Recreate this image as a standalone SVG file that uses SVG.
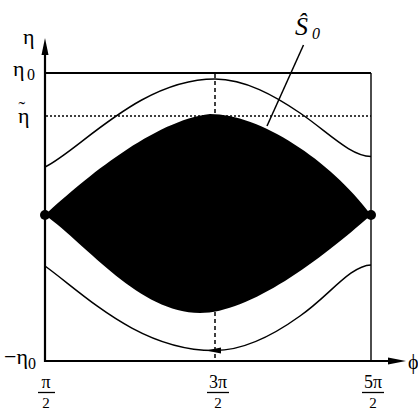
<svg xmlns="http://www.w3.org/2000/svg" width="418" height="411" viewBox="0 0 418 411">
<style>
text{font-family:"Liberation Serif","DejaVu Serif",serif;fill:#000}
.ax{stroke:#000;stroke-width:2.2;fill:none}
.thin{stroke:#000;stroke-width:1.4;fill:none}
.cur{stroke:#000;stroke-width:1.5;fill:none}
.dot{stroke:#000;stroke-width:1.5;stroke-dasharray:2 2;fill:none}
.dash{stroke:#000;stroke-width:1.5;stroke-dasharray:4 3;fill:none}
.bar{stroke:#000;stroke-width:1.3}
</style>
<g id="guides">
<line class="dash" x1="215" y1="74" x2="215" y2="360"/>
<line class="dot" x1="46" y1="116" x2="371" y2="116"/>
</g>
<g id="frame">
<line class="ax" x1="44" y1="73" x2="371" y2="73"/>
<line class="thin" x1="371" y1="73" x2="371" y2="361"/>
<line class="ax" x1="45" y1="361" x2="395" y2="361"/>
<line class="ax" x1="45" y1="362" x2="45" y2="50"/>
<polygon points="45,38 41.5,55 48.5,55" fill="#000"/>
<polygon points="406,361 388,357.5 388,364.5" fill="#000"/>
</g>
<g id="region">
<path d="M45,215 C85,178 155,120 210,114 C260,114 330,160 371,215 C320,260 250,313 200,313 C140,313 88,246 45,215 Z" fill="#000"/>
<circle cx="45" cy="215" r="5" fill="#000"/>
<circle cx="371" cy="215" r="5" fill="#000"/>
</g>
<g id="trajectories">
<path class="cur" d="M45,167 C80,150 140,79 215,79 C245,79 275,96 300,113 C328,132 350,156 371,156.5"/>
<path class="cur" d="M45,266 C85,295 140,351 215,350.5 C245,350.5 275,334 300,316 C328,297 350,265.5 371,265"/>
<polygon points="206,350.6 221,347.6 221,353.6" fill="#000"/>
</g>
<g id="leader">
<line class="cur" x1="303.5" y1="45" x2="267" y2="126"/>
</g>
<g id="labels">
<text x="23" y="44" font-size="22">η</text>
<text x="13" y="76" font-size="22">η</text><text x="27" y="80" font-size="16">0</text>
<text x="18" y="123" font-size="22">η</text><text x="18.5" y="116" font-size="20">˜</text>
<text x="4" y="364" font-size="22">−η</text><text x="28" y="369" font-size="16">0</text>
<text x="408" y="369" font-size="20">ϕ</text>
<text x="295" y="35" font-size="26" font-style="italic">Ŝ</text><text x="312" y="39" font-size="16" font-style="italic">0</text>
</g>
<g id="ticks">
<text x="46" y="388" font-size="18" text-anchor="middle">π</text>
<line class="bar" x1="38" y1="392.5" x2="55" y2="392.5"/>
<text x="46" y="408" font-size="15" text-anchor="middle">2</text>
<text x="218" y="388" font-size="18" text-anchor="middle">3π</text>
<line class="bar" x1="207" y1="392.5" x2="229" y2="392.5"/>
<text x="218" y="408" font-size="15" text-anchor="middle">2</text>
<text x="373" y="388" font-size="18" text-anchor="middle">5π</text>
<line class="bar" x1="362" y1="392.5" x2="384" y2="392.5"/>
<text x="373" y="408" font-size="15" text-anchor="middle">2</text>
</g>
</svg>
